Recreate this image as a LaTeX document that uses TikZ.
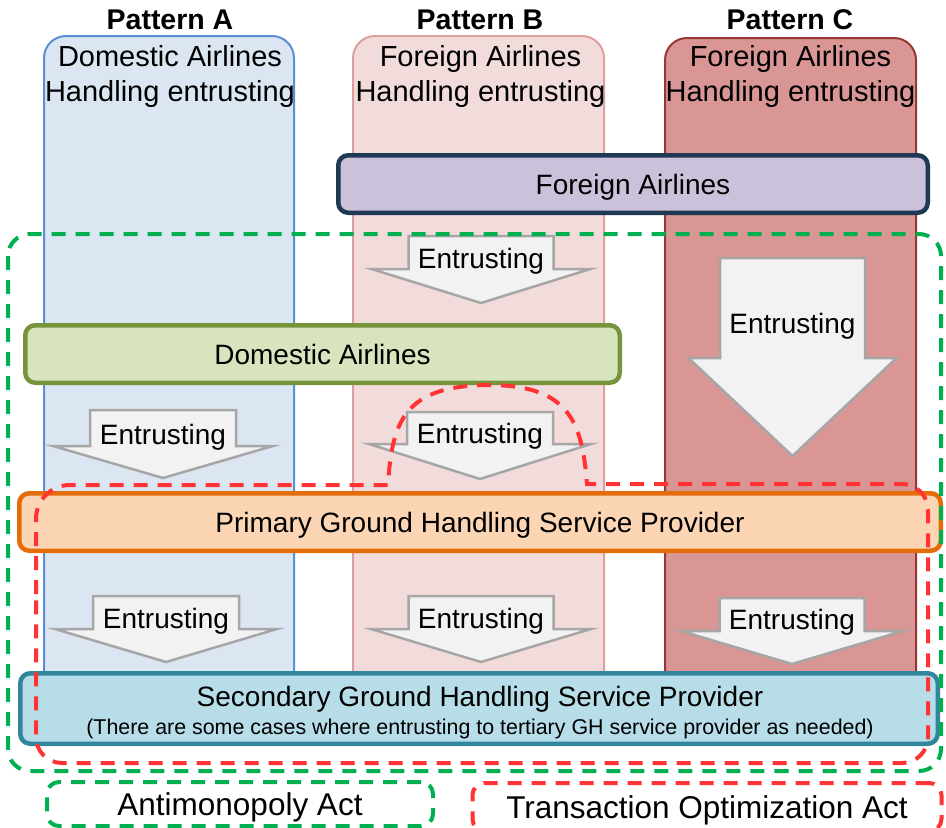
\documentclass[tikz,border=0pt]{standalone}
\usepackage{fontspec}
\setmainfont{Liberation Sans}
\usetikzlibrary{positioning}

\definecolor{laneAfill}{HTML}{DCE6F2}
\definecolor{laneAline}{HTML}{5A8FD8}
\definecolor{laneBfill}{HTML}{F2DCDB}
\definecolor{laneBline}{HTML}{DDA0A0}
\definecolor{laneCfill}{HTML}{D99694}
\definecolor{laneCline}{HTML}{953735}
\definecolor{foreignfill}{HTML}{CCC1DA}
\definecolor{foreignline}{HTML}{1F3854}
\definecolor{domfill}{HTML}{D7E4BD}
\definecolor{domline}{HTML}{77933C}
\definecolor{primfill}{HTML}{FCD5B5}
\definecolor{primline}{HTML}{E46C0A}
\definecolor{secfill}{HTML}{B7DEE8}
\definecolor{secline}{HTML}{31859C}
\definecolor{antigreen}{HTML}{00B050}
\definecolor{toared}{HTML}{FF3333}
\definecolor{arrowfill}{HTML}{F2F2F2}
\definecolor{arrowline}{HTML}{A6A6A6}

\tikzset{
  lane/.style={rounded corners=22pt, line width=2pt},
  bandbox/.style={rounded corners=10pt, line width=4.5pt, minimum height=57.5pt,
    text depth=0pt, inner sep=0pt, font=\fontsize{28}{34}\selectfont},
  entrust/.style={fill=arrowfill, draw=arrowline, line width=2.5pt},
  entrusttext/.style={anchor=base, inner sep=0pt, font=\fontsize{28}{34}\selectfont},
  lawline/.style={dash pattern=on 14pt off 10pt, line width=4pt},
  lawbox/.style={lawline, rounded corners=12pt, text depth=0pt, inner sep=0pt,
    font=\fontsize{31.5}{36}\selectfont},
  patternlabel/.style={anchor=base, inner sep=0pt, font=\bfseries\fontsize{28.5}{34}\selectfont},
  lanetitle/.style={anchor=north, inner sep=0pt, align=center, font=\fontsize{29}{35.5}\selectfont},
}

\begin{document}
\begin{tikzpicture}[x=1pt,y=-1pt]
  \useasboundingbox (0,0) rectangle (946,828);

  % pattern lanes
  \draw[lane, draw=laneAline, fill=laneAfill] (44,36) rectangle (294,700);
  \draw[lane, draw=laneBline, fill=laneBfill] (353,36) rectangle (604,700);
  \draw[lane, draw=laneCline, fill=laneCfill] (665,38) rectangle (916,700);

  \node[patternlabel] (patA) at (170,29) {Pattern A};
  \node[patternlabel] (patB) at (480,29) {Pattern B};
  \node[patternlabel] (patC) at (790,29) {Pattern C};

  \node[lanetitle] (titleA) at (170,45) {Domestic Airlines\\Handling entrusting};
  \node[lanetitle] (titleB) at (480.5,45) {Foreign Airlines\\Handling entrusting};
  \node[lanetitle] (titleC) at (790.5,45) {Foreign Airlines\\Handling entrusting};

  \node[bandbox, draw=foreignline, fill=foreignfill, minimum width=589.5pt] (foreign) at (633,184) {Foreign Airlines};

  % entrusting arrows
  \foreach \cx/\sw/\hw/\ty/\sy/\tip/\base/\nm in
    {481/72.5/109.5/236/269/303/268/b1, 792.5/72.5/104/258/358/456/333/c1,
     163/73/110/410/446/478/444/a2, 480/73/111/412/444/479/443/b2,
     166/73/111/596/629/662/628/a3, 481/72.5/110/596/629/662/628/b3,
     792/72.5/111/598/631/664/629/c3}{
    \draw[entrust] ({\cx-\sw},\ty) -- ({\cx+\sw},\ty) -- ({\cx+\sw},\sy) -- ({\cx+\hw},\sy)
      -- (\cx,\tip) -- ({\cx-\hw},\sy) -- ({\cx-\sw},\sy) -- cycle;
    \node[entrusttext] (entrust-\nm) at (\cx,\base) {Entrusting};
  }

  \node[bandbox, draw=domline, fill=domfill, minimum width=594.5pt] (domestic) at (322.5,354) {Domestic Airlines};
  \node[bandbox, draw=primline, fill=primfill, minimum width=921.5pt] (primary) at (480,522) {Primary Ground Handling Service Provider};
  \node[bandbox, draw=secline, fill=secfill, minimum width=917.5pt, minimum height=70.5pt] (secondary) at (479,708.5) {};
  \node[entrusttext] (secondtitle) at (480,706) {Secondary Ground Handling Service Provider};
  \node[anchor=base, inner sep=0pt, font=\fontsize{21.4}{26}\selectfont] (secondnote) at (480,734)
    {(There are some cases where entrusting to tertiary GH service provider as needed)};

  % law areas
  \draw[lawline, draw=antigreen, rounded corners=22pt] (8,234) rectangle (941,771);
  \draw[lawline, draw=toared] (36,620) [rounded corners=34pt] -- (36,485) [sharp corners] -- (388,485)
    .. controls (392,420) and (405,386) .. (488,385)
    .. controls (568,385) and (582,420) .. (587,484)
    [rounded corners=26pt] -- (928,484) -- (928,763) -- (36,763) -- cycle;

  % legend
  \node[lawbox, draw=antigreen, minimum width=386pt, minimum height=44pt] (antimono) at (240,804) {Antimonopoly Act};
  \node[lawbox, draw=toared, minimum width=469pt, minimum height=48pt] (transopt) at (707,807) {Transaction Optimization Act};
\end{tikzpicture}
\end{document}
